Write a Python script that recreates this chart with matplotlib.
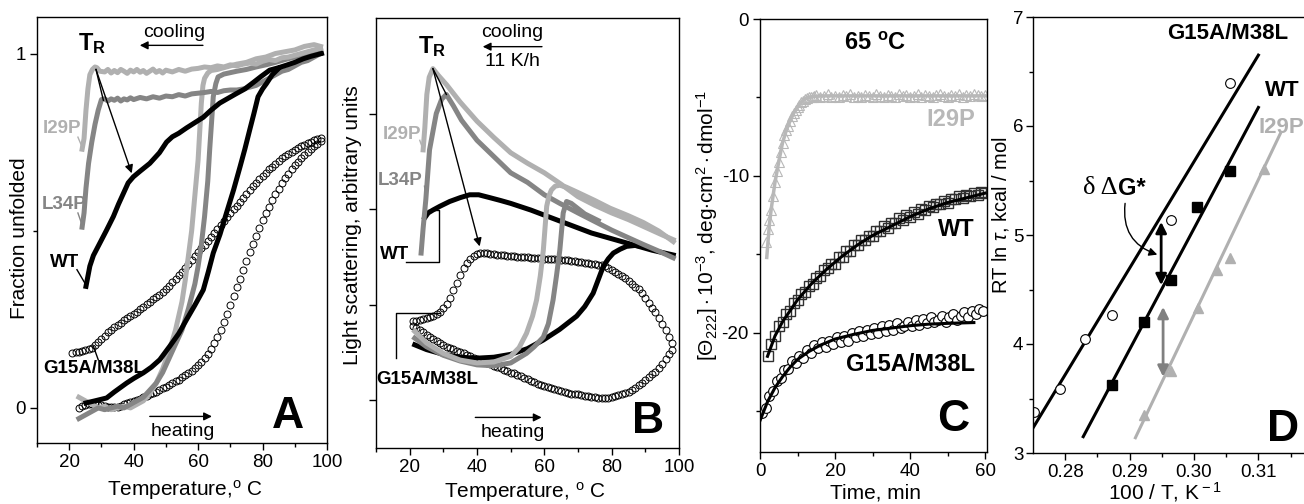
import numpy as np
import matplotlib
matplotlib.use('Agg')
import matplotlib.pyplot as plt
from matplotlib.ticker import MultipleLocator, FixedLocator, NullFormatter

plt.rcParams['font.family'] = ['Liberation Sans', 'DejaVu Sans']
plt.rcParams['mathtext.fontset'] = 'custom'
plt.rcParams['mathtext.rm'] = 'Liberation Sans'
plt.rcParams['mathtext.it'] = 'Liberation Sans:italic'
plt.rcParams['mathtext.bf'] = 'Liberation Sans:bold'
plt.rcParams['axes.unicode_minus'] = False

LIGHT = '#b0b0b0'
MID = '#858585'

# ---------------- panel A: fraction unfolded vs temperature ----------------
a_i29p_cool_T = [24.0, 24.6, 25.2, 25.8, 26.4, 27.2, 28.0, 28.6, 29.5,
                 31, 32, 33, 34, 35, 36, 37, 38, 39, 40, 41, 42, 43, 44, 45, 46, 47, 48, 49, 50,
                 52, 54, 56, 58, 60, 62, 64, 66, 68, 70, 72, 74, 76, 78, 80, 82, 84, 86, 88, 90,
                 92, 94, 96, 98]
a_i29p_cool = [0.73, 0.76, 0.84, 0.90, 0.94, 0.955, 0.962, 0.96, 0.95,
               0.948, 0.955, 0.945, 0.952, 0.946, 0.955, 0.95, 0.944, 0.953, 0.948, 0.955, 0.947,
               0.952, 0.944, 0.95, 0.956, 0.947, 0.952, 0.945, 0.953,
               0.948, 0.955, 0.95, 0.956, 0.958, 0.962, 0.96, 0.965, 0.962, 0.968, 0.965, 0.97,
               0.973, 0.97, 0.978, 0.983, 0.98, 0.988, 0.99, 0.995, 1.0, 1.005, 1.01, 1.015]
a_i29p_heat_T = [23, 25, 27, 29, 31, 33, 35, 37, 39, 41, 43, 45, 47, 49, 51, 53, 55,
                 56, 57, 58, 59, 60, 60.5, 61, 61.5, 62, 63, 64, 66, 68, 70, 72,
                 75, 78, 81, 84, 87, 90, 93, 96, 98]
a_i29p_heat = [0.03, 0.02, 0.01, 0.0, 0.005, -0.005, 0.0, 0.005, 0.0, 0.01, 0.02, 0.04, 0.07,
               0.11, 0.16, 0.22, 0.30, 0.36, 0.43, 0.50, 0.60, 0.70, 0.78, 0.86, 0.91, 0.93,
               0.945, 0.952, 0.955, 0.96, 0.965, 0.97, 0.975, 0.985, 0.99, 1.0, 1.005, 1.01,
               1.02, 1.025, 1.02]
a_l34p_cool_T = [24, 24.6, 25.2, 26, 27, 28, 29, 30, 31, 32, 33, 34, 35, 36, 37, 38, 39, 40,
                 42, 44, 46, 48, 50, 52, 54, 56, 58, 60, 62, 64, 66, 68, 70, 72, 74, 76, 78,
                 80, 82, 84, 86, 88, 90, 92, 94, 96, 98]
a_l34p_cool = [0.51, 0.55, 0.62, 0.69, 0.75, 0.80, 0.84, 0.87, 0.872, 0.866, 0.872, 0.868,
               0.874, 0.866, 0.872, 0.869, 0.875, 0.87,
               0.876, 0.872, 0.878, 0.874, 0.88, 0.878, 0.884, 0.88, 0.886, 0.888, 0.89, 0.893,
               0.89, 0.895, 0.897, 0.897, 0.90, 0.905, 0.91, 0.92, 0.93, 0.94, 0.95, 0.955,
               0.965, 0.975, 0.98, 0.99, 1.0]
a_l34p_heat_T = [23, 25, 27, 29, 31, 33, 35, 37, 39, 41, 43, 45, 47, 49, 51, 53, 55, 57, 59,
                 60, 61, 62, 63, 63.6, 64.2, 64.7, 65.5, 66.2, 68, 70, 72,
                 75, 78, 81, 84, 87, 90, 93, 96, 98]
a_l34p_heat = [-0.03, -0.02, -0.01, 0.0, -0.005, 0.0, 0.005, 0.0, 0.01, 0.02, 0.03, 0.05,
               0.07, 0.10, 0.14, 0.18, 0.22, 0.28, 0.35, 0.40, 0.46, 0.54, 0.64, 0.73, 0.81,
               0.878, 0.915, 0.934, 0.942, 0.946, 0.95, 0.955, 0.962, 0.968, 0.975, 0.983,
               0.99, 0.995, 1.0, 1.0]
a_wt_cool_T = [25.2, 26.4, 27.5, 29.5, 31.5, 33.7, 35.3, 36.8, 38.3, 39.9, 42, 45, 48, 50.2,
               52, 54, 56.4, 59, 61.6, 64, 66.7, 69, 71.9, 74.5, 77.1, 79.5, 82.2, 85, 87.4,
               90, 92.6, 95, 98.3]
a_wt_cool = [0.343, 0.40, 0.43, 0.465, 0.50, 0.54, 0.575, 0.605, 0.635, 0.652, 0.668, 0.69,
             0.72, 0.75, 0.765, 0.775, 0.79, 0.805, 0.82, 0.84, 0.86, 0.872, 0.887, 0.90,
             0.918, 0.935, 0.953, 0.96, 0.967, 0.975, 0.985, 0.992, 1.0]
a_wt_heat_T = [25.2, 28, 31.6, 34, 37.8, 40, 43, 45.5, 48.1, 51.2, 54, 56.4, 59, 61.6, 63.2,
               64.7, 66.8, 68.8, 71, 73, 74.5, 76, 77.3, 78.6, 80, 81.2, 83, 85]
a_wt_heat = [0.014, 0.02, 0.028, 0.045, 0.07, 0.083, 0.099, 0.115, 0.136, 0.174, 0.21, 0.249,
             0.29, 0.333, 0.385, 0.437, 0.49, 0.55, 0.615, 0.68, 0.73, 0.784, 0.83, 0.878,
             0.90, 0.915, 0.94, 0.958]
a_g15_cool_T = np.arange(21, 99)
a_g15_cool = [0.155, 0.157, 0.159, 0.160, 0.162, 0.165, 0.170, 0.178, 0.186, 0.195,
              0.204, 0.213, 0.221, 0.228, 0.235, 0.241, 0.247, 0.253, 0.259, 0.265,
              0.271, 0.278, 0.285, 0.292, 0.299, 0.306, 0.313, 0.320, 0.328, 0.336,
              0.345, 0.354, 0.364, 0.374, 0.384, 0.395, 0.406, 0.417, 0.428, 0.439,
              0.45, 0.461, 0.472, 0.483, 0.494, 0.505, 0.516, 0.527, 0.538, 0.549,
              0.56, 0.571, 0.582, 0.593, 0.604, 0.615, 0.625, 0.635, 0.645, 0.655,
              0.664, 0.673, 0.681, 0.689, 0.697, 0.704, 0.711, 0.717, 0.723, 0.728,
              0.733, 0.738, 0.743, 0.747, 0.751, 0.755, 0.758, 0.761]
a_g15_heat_T = np.arange(23, 99)
a_g15_heat = [0.0, 0.005, 0.008, 0.01, 0.01, 0.01, 0.009, 0.007,
              0.005, 0.003, 0.002, 0.002, 0.003, 0.006, 0.01, 0.013, 0.016, 0.019,
              0.022, 0.026, 0.03, 0.034, 0.038, 0.042, 0.046, 0.05, 0.055, 0.06,
              0.065, 0.07, 0.075, 0.08, 0.086, 0.092, 0.098, 0.105, 0.112, 0.12,
              0.13, 0.14, 0.152, 0.166, 0.182, 0.2, 0.22, 0.242, 0.265, 0.29,
              0.315, 0.34, 0.365, 0.39, 0.415, 0.44, 0.463, 0.486, 0.508, 0.529,
              0.549, 0.568, 0.586, 0.603, 0.619, 0.634, 0.648, 0.661, 0.673, 0.684,
              0.694, 0.704, 0.713, 0.722, 0.73, 0.738, 0.745, 0.752]

# ---------------- panel B: light scattering (arbitrary units) ----------------
b_i29p_cool_T = [24, 24.5, 25.1, 25.8, 26.9, 28.5, 31, 35, 40, 45, 50, 55, 60, 65, 70, 75,
                 80, 85, 90, 95, 98.3]
b_i29p_cool = [3.12, 3.35, 3.70, 3.88, 3.97, 3.90, 3.80, 3.62, 3.42, 3.25, 3.09, 2.98, 2.88,
               2.76, 2.63, 2.54, 2.46, 2.39, 2.31, 2.23, 2.18]
b_i29p_heat_T = [21.5, 25, 30, 35, 40, 45, 50, 52.5, 54.7, 56.5, 57.7, 58.8, 59.7, 60.7, 61.4,
                 62.1, 63.2, 64.6, 66.5, 69.6, 75, 79.5, 85, 89.4, 94, 98.3]
b_i29p_heat = [1.22, 1.10, 0.99, 0.92, 0.89, 0.90, 0.96, 1.05, 1.20, 1.38, 1.55, 1.80, 2.07,
               2.53, 2.64, 2.70, 2.74, 2.75, 2.73, 2.68, 2.59, 2.51, 2.43, 2.36, 2.27, 2.16]
b_l34p_cool_T = [23.4, 24, 24.8, 25.9, 27.9, 29.5, 30.9, 33, 35.4, 40, 45, 50, 55, 60, 64.6,
                 70, 75, 80, 85, 89.4, 94, 98.3]
b_l34p_cool = [2.04, 2.30, 2.60, 3.12, 3.50, 3.65, 3.70, 3.58, 3.43, 3.22, 3.05, 2.88, 2.78,
               2.65, 2.56, 2.46, 2.37, 2.28, 2.20, 2.13, 2.06, 1.99]
b_l34p_heat_T = [21.5, 25, 30, 35, 40, 45, 50, 54.7, 57, 59.7, 61.2, 62.6, 63.6, 64.6, 65.6,
                 66.6, 68, 72, 76]
b_l34p_heat = [1.15, 1.06, 0.97, 0.91, 0.87, 0.86, 0.89, 0.99, 1.06, 1.16, 1.30, 1.55, 1.80,
               2.07, 2.46, 2.58, 2.56, 2.45, 2.38]
b_wt_cool_T = [24.5, 25.5, 26.9, 29, 31.9, 35, 37.8, 40.5, 43.8, 47, 50, 56, 62, 68, 74, 80,
               86, 92, 98.3]
b_wt_cool = [2.41, 2.46, 2.49, 2.53, 2.58, 2.62, 2.65, 2.65, 2.62, 2.59, 2.56, 2.49, 2.41,
             2.33, 2.25, 2.19, 2.13, 2.07, 2.02]
b_wt_heat_T = [21.5, 25, 30, 35, 40, 45, 50, 55, 59.7, 64.5, 69.6, 72, 74.5, 76, 77.5, 79,
               80.5, 82.5, 84.4, 87, 89.4]
b_wt_heat = [1.08, 1.03, 0.98, 0.95, 0.94, 0.95, 0.98, 1.04, 1.13, 1.24, 1.38, 1.48, 1.62,
             1.76, 1.90, 1.98, 2.04, 2.08, 2.11, 2.12, 2.11]
b_g15_T = np.arange(21, 99)
b_g15_cool = [1.33, 1.33, 1.34, 1.35, 1.36, 1.37, 1.38, 1.40, 1.42, 1.46,
              1.51, 1.57, 1.65, 1.73, 1.81, 1.88, 1.94, 1.98, 2.01, 2.03,
              2.04, 2.04, 2.04, 2.03, 2.03, 2.02, 2.02, 2.02, 2.01, 2.01,
              2.01, 2.0, 2.0, 2.0, 2.0, 1.99, 1.99, 1.99, 1.99, 1.98,
              1.98, 1.98, 1.98, 1.98, 1.97, 1.97, 1.97, 1.96, 1.96, 1.95,
              1.95, 1.94, 1.94, 1.93, 1.93, 1.92, 1.91, 1.90, 1.88, 1.86,
              1.84, 1.82, 1.80, 1.78, 1.75, 1.72, 1.69, 1.66, 1.62, 1.57,
              1.52, 1.47, 1.42, 1.36, 1.30, 1.23, 1.16, 1.10]
b_g15_heat = [1.28, 1.26, 1.23, 1.21, 1.18, 1.16, 1.14, 1.12, 1.10, 1.08,
              1.06, 1.05, 1.04, 1.02, 1.00, 0.99, 0.97, 0.96, 0.94, 0.93,
              0.92, 0.90, 0.89, 0.88, 0.86, 0.85, 0.84, 0.82, 0.81, 0.79,
              0.78, 0.76, 0.75, 0.73, 0.72, 0.70, 0.69, 0.67, 0.66, 0.65,
              0.64, 0.63, 0.62, 0.61, 0.60, 0.59, 0.58, 0.57, 0.565, 0.56,
              0.55, 0.545, 0.54, 0.535, 0.53, 0.525, 0.52, 0.52, 0.525, 0.53,
              0.54, 0.55, 0.56, 0.575, 0.59, 0.61, 0.63, 0.655, 0.68, 0.71,
              0.74, 0.77, 0.80, 0.84, 0.88, 0.93, 0.98, 1.03]

# ---------------- panel C: CD kinetics at 65 C ----------------
c_i29p_t = np.concatenate([np.arange(1.5, 15, 0.5), np.arange(15, 61)])
c_i29p = [-14.2, -13.4, -12.8, -12.2, -11.3, -10.4, -9.7, -9.1, -8.5, -7.9, -7.4, -7.1, -6.8,
          -6.5, -6.2, -6.0, -5.8, -5.6, -5.45, -5.3, -5.2, -5.1, -5.05, -5.0, -4.95, -4.95, -4.9,
          -4.85, -5.0, -4.9, -4.8, -4.95, -4.9, -5.0, -4.85, -4.9, -4.8,
          -4.95, -4.9, -5.0, -4.85, -4.9, -4.95, -4.8, -4.9, -5.0, -4.85,
          -4.9, -4.95, -4.8, -4.9, -4.85, -5.0, -4.9, -4.8, -4.95, -4.85,
          -4.9, -5.0, -4.85, -4.8, -4.9, -4.95, -4.85, -4.9, -4.8, -4.95,
          -4.85, -4.9, -4.8, -4.85, -4.9, -4.85]
c_i29p_fit_t = [1.8, 2.5, 3, 4, 5, 6, 7, 8, 9, 10, 11, 12, 13, 14, 16, 20, 60]
c_i29p_fit = [-15.2, -13.1, -12.1, -10.4, -9.1, -7.9, -7.1, -6.5, -6.0, -5.6, -5.3, -5.1, -5.0,
              -4.95, -4.9, -4.9, -4.9]
c_wt_t = np.arange(2, 61)
c_wt = [-21.5, -20.7, -20.2, -19.6, -19.3, -18.8, -18.6, -18.1, -17.9, -17.5,
        -17.4, -17.0, -16.9, -16.5, -16.4, -16.0, -15.9, -15.6, -15.6, -15.2,
        -15.2, -14.8, -14.8, -14.4, -14.4, -14.1, -14.1, -13.8, -13.8, -13.5,
        -13.5, -13.2, -13.3, -13.0, -13.0, -12.7, -12.8, -12.5, -12.6, -12.3,
        -12.4, -12.1, -12.2, -11.9, -12.0, -11.8, -11.8, -11.6, -11.7, -11.5,
        -11.5, -11.3, -11.4, -11.2, -11.3, -11.1, -11.2, -11.0, -11.1]
c_wt_fit_t = [2, 4, 6, 8, 10, 14, 18, 22, 26, 30, 35, 40, 45, 50, 55, 60]
c_wt_fit = [-21.5, -20.2, -19.3, -18.6, -17.9, -16.8, -15.9, -15.1, -14.4, -13.8, -13.2,
            -12.6, -12.1, -11.7, -11.4, -11.1]
c_g15_t = np.arange(0.5, 60, 1)
c_g15 = [-25.1, -24.8, -24.0, -23.7, -23.1, -22.9, -22.4, -22.3, -21.8, -21.9,
         -21.5, -21.6, -21.1, -21.3, -20.8, -21.0, -20.6, -20.9, -20.5, -20.7,
         -20.3, -20.6, -20.2, -20.5, -20.0, -20.3, -19.9, -20.2, -19.8, -20.1,
         -19.7, -20.0, -19.6, -19.9, -19.5, -19.8, -19.4, -19.7, -19.6, -19.3,
         -19.6, -19.2, -19.5, -19.1, -19.4, -19.0, -19.3, -19.2, -18.9, -19.3,
         -19.0, -18.8, -19.2, -18.9, -18.7, -19.0, -18.6, -18.8, -18.5, -18.6]
c_g15_fit_t = [0, 2, 4, 6, 8, 10, 13, 16, 20, 25, 30, 35, 40, 45, 50, 57]
c_g15_fit = [-25.6, -24.4, -23.5, -22.8, -22.2, -21.7, -21.2, -20.8, -20.4, -20.1, -19.85,
             -19.7, -19.55, -19.45, -19.4, -19.35]

# ---------------- panel D: RT ln tau vs 100/T ----------------
d_g15_x = [0.2751, 0.2792, 0.2831, 0.2873, 0.2964, 0.3056]
d_g15_y = [3.38, 3.59, 4.05, 4.27, 5.14, 6.39]
d_wt_x = [0.2873, 0.2923, 0.2964, 0.3005, 0.3056]
d_wt_y = [3.62, 4.20, 4.59, 5.26, 5.59]
d_i29p_x = [0.2923, 0.2964, 0.3006, 0.3036, 0.3056, 0.3108]
d_i29p_y = [3.35, 3.75, 4.33, 4.68, 4.79, 5.61]
d_g15_fit_x, d_g15_fit_y = [0.275, 0.310], [3.23, 6.65]
d_wt_fit_x, d_wt_fit_y = [0.2828, 0.310], [3.15, 6.17]
d_i29p_fit_x, d_i29p_fit_y = [0.2909, 0.3134], [3.14, 5.93]

W, H = 1304, 504
fig = plt.figure(figsize=(W / 100, H / 100), dpi=100)


def box(l, t, r, b):
    return [l / W, 1 - b / H, (r - l) / W, (b - t) / H]


def style(ax):
    for s in ax.spines.values():
        s.set_linewidth(1.0)
    ax.tick_params(which='major', direction='out', length=5, width=1, labelsize=13.5, pad=3)
    ax.tick_params(which='minor', direction='out', length=3, width=1)


def ftext(x, y, s, **kw):
    fig.text(x / W, 1 - y / H, s, ha='center', va='center', **kw)


arrow = dict(arrowstyle='-|>', color='k', lw=1, mutation_scale=12, shrinkA=0, shrinkB=0)
lw = 3.6
bold = dict(fontweight='bold')

# ---- A ----
axA = fig.add_axes(box(37, 17, 327, 443))
style(axA)
axA.set_xlim(10, 100)
axA.set_ylim(-0.099, 1.103)
axA.xaxis.set_major_locator(FixedLocator([20, 40, 60, 80, 100]))
axA.xaxis.set_minor_locator(MultipleLocator(10))
axA.set_yticks([0, 1])
axA.set_yticklabels(['0', '1'])
axA.yaxis.set_minor_locator(FixedLocator([0.5]))
axA.plot(a_g15_cool_T, a_g15_cool, 'o', ms=5, mfc='none', mec='k', mew=0.7)
axA.plot(a_g15_heat_T, a_g15_heat, 'o', ms=5, mfc='none', mec='k', mew=0.7)
axA.plot(a_i29p_heat_T, a_i29p_heat, color=LIGHT, lw=lw)
axA.plot(a_l34p_heat_T, a_l34p_heat, color=MID, lw=lw)
axA.plot(a_i29p_cool_T, a_i29p_cool, color=LIGHT, lw=lw)
axA.plot(a_l34p_cool_T, a_l34p_cool, color=MID, lw=lw)
axA.plot(a_wt_heat_T, a_wt_heat, color='k', lw=lw)
axA.plot(a_wt_cool_T, a_wt_cool, color='k', lw=lw)
axA.text(11.9, 0.788, 'I29P', color=LIGHT, fontsize=13.5, va='center', **bold)
axA.plot([22.7, 24.0], [0.764, 0.736], color=LIGHT, lw=1)
axA.text(11.6, 0.575, 'L34P', color=MID, fontsize=13.5, va='center', **bold)
axA.plot([22.7, 24.0], [0.55, 0.516], color=MID, lw=1)
axA.text(14.0, 0.41, 'WT', color='k', fontsize=13.5, va='center', **bold)
axA.plot([22.4, 25.2], [0.39, 0.347], color='k', lw=1)
axA.text(11.9, 0.111, 'G15A/M38L', color='k', fontsize=13.5, va='center', **bold)
axA.plot([27.5, 29.0], [0.174, 0.136], color='k', lw=1)
axA.text(22.7, 1.009, r'$\mathbf{T}_\mathbf{R}$', fontsize=17, va='baseline')
axA.plot([28.3, 30.6], [0.955, 0.868], color='k', lw=1)
axA.annotate('', xy=(39.4, 0.662), xytext=(28.3, 0.955), arrowprops=arrow)
axA.text(52.5, 1.06, 'cooling', fontsize=14, ha='center', va='center')
axA.annotate('', xy=(41.9, 1.023), xytext=(61.5, 1.023), arrowprops=arrow)
axA.text(55.3, -0.067, 'heating', fontsize=14, ha='center', va='center')
axA.annotate('', xy=(64.3, -0.024), xytext=(45, -0.024), arrowprops=arrow)
axA.text(88.0, -0.025, 'A', fontsize=32, ha='center', va='center', **bold)
ftext(185, 490, r'Temperature,$^{\rm o}$ C', fontsize=15)
ftext(20, 238, 'Fraction unfolded', fontsize=15, rotation=90)

# ---- B ----
axB = fig.add_axes(box(376, 18, 679, 448))
style(axB)
axB.set_xlim(10, 100)
axB.set_ylim(0, 4.5)
axB.xaxis.set_major_locator(FixedLocator([20, 40, 60, 80, 100]))
axB.xaxis.set_minor_locator(MultipleLocator(10))
axB.set_yticks([0.5, 1.5, 2.5, 3.5])
axB.yaxis.set_major_formatter(NullFormatter())
axB.plot(b_g15_T, b_g15_cool, 'o', ms=5, mfc='none', mec='k', mew=0.7)
axB.plot(b_g15_T, b_g15_heat, 'o', ms=5, mfc='none', mec='k', mew=0.7)
axB.plot(b_wt_heat_T, b_wt_heat, color='k', lw=lw)
axB.plot(b_wt_cool_T, b_wt_cool, color='k', lw=lw)
axB.plot(b_l34p_heat_T, b_l34p_heat, color=MID, lw=lw)
axB.plot(b_l34p_cool_T, b_l34p_cool, color=MID, lw=lw)
axB.plot(b_i29p_heat_T, b_i29p_heat, color=LIGHT, lw=lw)
axB.plot(b_i29p_cool_T, b_i29p_cool, color=LIGHT, lw=lw)
axB.text(12.0, 3.28, 'I29P', color=LIGHT, fontsize=13.5, va='center', **bold)
axB.plot([23.0, 24.0], [3.22, 3.12], color=LIGHT, lw=1)
axB.text(10.5, 2.80, 'L34P', color=MID, fontsize=13.5, va='center', **bold)
axB.plot([24.4, 25.0], [2.74, 2.60], color=MID, lw=1)
axB.text(11.1, 2.02, 'WT', color='k', fontsize=13.5, va='center', **bold)
axB.plot([19.0, 28.7, 28.7, 25.4], [1.95, 1.95, 2.49, 2.49], color='k', lw=1)
axB.text(10.2, 0.72, 'G15A/M38L', color='k', fontsize=13.5, va='center', **bold)
axB.plot([15.8, 15.8, 28.9], [0.94, 1.41, 1.41], color='k', lw=1)
axB.text(22.4, 4.135, r'$\mathbf{T}_\mathbf{R}$', fontsize=17, va='baseline')
axB.plot([26.9, 30.9], [3.97, 3.70], color='k', lw=1)
axB.annotate('', xy=(40.8, 2.11), xytext=(26.9, 3.97), arrowprops=arrow)
axB.text(50.5, 4.35, 'cooling', fontsize=14, ha='center', va='center')
axB.annotate('', xy=(41.7, 4.20), xytext=(59.3, 4.20), arrowprops=arrow)
axB.text(50.5, 4.04, '11 K/h', fontsize=14, ha='center', va='center')
axB.text(50.5, 0.165, 'heating', fontsize=14, ha='center', va='center')
axB.annotate('', xy=(59.2, 0.32), xytext=(39.5, 0.32), arrowprops=arrow)
axB.text(90.8, 0.275, 'B', fontsize=32, ha='center', va='center', **bold)
ftext(525, 492, r'Temperature, $^{\rm o}$ C', fontsize=15)
ftext(353, 225, 'Light scattering, arbitrary units', fontsize=15, rotation=90)

# ---- C ----
axC = fig.add_axes(box(760, 19, 987, 452))
style(axC)
axC.set_xlim(0, 60.5)
axC.set_ylim(-27.6, 0)
axC.set_xticks([0, 20, 40, 60])
axC.xaxis.set_minor_locator(MultipleLocator(10))
axC.set_yticks([0, -10, -20])
axC.yaxis.set_minor_locator(FixedLocator([-5, -15, -25]))
axC.plot(c_i29p_t, c_i29p, '^', ms=6.5, mfc='none', mec='#b8b8b8', mew=0.8)
axC.plot(c_i29p_fit_t, c_i29p_fit, color='#b8b8b8', lw=2.5)
axC.plot(c_wt_t, c_wt, 's', ms=6.5, mfc='none', mec='#303030', mew=1.0)
axC.plot(c_wt_fit_t, c_wt_fit, color='k', lw=2.2)
axC.plot(c_g15_t, c_g15, 'o', ms=7, mfc='white', mec='k', mew=0.8)
axC.plot(c_g15_fit_t, c_g15_fit, color='k', lw=2.2)
axC.text(30.7, -1.53, r'65 $^\mathbf{o}$C', fontsize=17, ha='center', va='center', **bold)
axC.text(57.3, -6.43, 'I29P', color='#b8b8b8', fontsize=17, ha='right', va='center', **bold)
axC.text(57.3, -13.4, 'WT', color='k', fontsize=17, ha='right', va='center', **bold)
axC.text(57.3, -22.0, 'G15A/M38L', color='k', fontsize=17, ha='right', va='center', **bold)
axC.text(51.5, -25.5, 'C', fontsize=32, ha='center', va='center', **bold)
ftext(876, 493, 'Time, min', fontsize=15)
ftext(707, 225, r'$[\Theta_{222}]\cdot10^{-3}$, deg$\cdot$cm$^2\cdot$dmol$^{-1}$',
      fontsize=15, rotation=90)

# ---- D ----
axD = fig.add_axes(box(1033, 17, 1355, 453))
style(axD)
axD.tick_params(axis='y', which='major', pad=2)
axD.set_xlim(0.275, 0.325)
axD.set_ylim(3, 7)
axD.set_xticks([0.28, 0.29, 0.30, 0.31])
axD.set_xticklabels(['0.28', '0.29', '0.30', '0.31'])
axD.xaxis.set_minor_locator(FixedLocator([0.285, 0.295, 0.305, 0.315]))
axD.set_yticks([3, 4, 5, 6, 7])
axD.yaxis.set_minor_locator(FixedLocator([3.5, 4.5, 5.5, 6.5]))
axD.plot(d_g15_fit_x, d_g15_fit_y, color='k', lw=2.2)
axD.plot(d_wt_fit_x, d_wt_fit_y, color='k', lw=2.2)
axD.plot(d_i29p_fit_x, d_i29p_fit_y, color=LIGHT, lw=2.2)
axD.plot(d_g15_x, d_g15_y, 'o', ms=7, mfc='white', mec='k', mew=0.8)
axD.plot(d_wt_x, d_wt_y, 's', ms=6.5, color='k')
axD.plot(d_i29p_x, d_i29p_y, '^', ms=6.5, color=LIGHT)
axD.annotate('', xy=(0.2949, 5.12), xytext=(0.2949, 4.54),
             arrowprops=dict(arrowstyle='<|-|>', color='k', lw=2, mutation_scale=16,
                             shrinkA=0, shrinkB=0))
axD.annotate('', xy=(0.2952, 4.34), xytext=(0.2952, 3.70),
             arrowprops=dict(arrowstyle='<|-|>', color='#808080', lw=2, mutation_scale=16,
                             shrinkA=0, shrinkB=0))
axD.text(0.2828, 5.43, 'δ Δ', family='Liberation Serif', fontsize=19, va='center')
axD.text(0.2882, 5.43, 'G*', fontsize=17, va='center', **bold)
axD.annotate('', xy=(0.2943, 4.82), xytext=(0.2893, 5.29),
             arrowprops=dict(arrowstyle='-|>', color='k', lw=1, mutation_scale=12,
                             shrinkA=0, shrinkB=0, connectionstyle='arc3,rad=0.4'))
axD.text(0.2959, 6.85, 'G15A/M38L', fontsize=16, va='center', **bold)
axD.text(0.3111, 6.33, 'WT', fontsize=16, va='center', **bold)
axD.text(0.3100, 5.99, 'I29P', color=LIGHT, fontsize=16, va='center', **bold)
axD.text(0.3139, 3.22, 'D', fontsize=32, ha='center', va='center', **bold)
ftext(1165, 492, r'100 / T, K$^{\rm -1}$', fontsize=15)
ftext(1001, 215, r'RT ln $\tau$, kcal / mol', fontsize=14.5, rotation=90)

fig.savefig('out.png', dpi=100)
